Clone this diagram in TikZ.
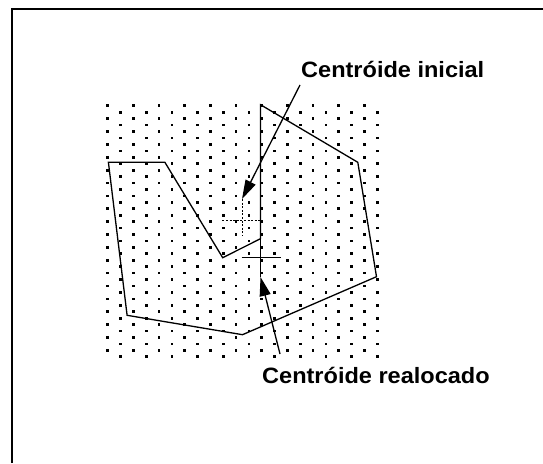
\documentclass[tikz,border=0pt]{standalone}
\usepackage{fontspec}
\setmainfont{Liberation Sans}
\usetikzlibrary{arrows.meta}
\begin{document}
\begin{tikzpicture}[x=1pt,y=-1pt,
  edge/.style={line width=1.3pt, line join=miter},
  arr/.style={line width=1.3pt, -{Triangle[length=19pt,width=11pt]}},
  lbl/.style={inner sep=0pt, anchor=base west, font=\fontsize{22.2}{25}\selectfont\bfseries},
  dashcross/.style={line width=1pt, dash pattern=on 2pt off 1.6pt}]
\useasboundingbox (0,0) rectangle (543,463);
% frame
\draw[line width=2pt] (12,463) -- (12,8.5) -- (543,8.5);
% dot pattern
\foreach \r in {0,...,39}{
  \pgfmathtruncatemacro\rp{mod(\r,2)}
  \foreach \c in {0,...,10}{
    \pgfmathsetmacro\xx{107.8+(2*\c+\rp)*12.83}
    \pgfmathsetmacro\yy{105.8+\r*6.436}
    \fill (\xx-1.35,\yy-1.35) rectangle ++(2.7,2.7);
  }
}
% polygon
\coordinate (p1) at (108.4,162.3);
\coordinate (p2) at (164.9,162.3);
\coordinate (p3) at (222.7,257.7);
\coordinate (p4) at (260.5,238.7);
\coordinate (p5) at (260.5,104.7);
\coordinate (p6) at (357.8,162.3);
\coordinate (p7) at (376.5,276.7);
\coordinate (p8) at (242.5,334.7);
\coordinate (p9) at (127.1,315.3);
\draw[edge] (p1) -- (p2) -- (p3) -- (p4) -- (p5) -- (p6) -- (p7) -- (p8) -- (p9) -- cycle;
% initial centroid (dashed cross)
\coordinate (t1) at (242,199);
\coordinate (d1) at (222.3,220);
\coordinate (d2) at (261,220);
\coordinate (d3) at (242,236);
\draw[dashcross] (d1) -- (d2);
\draw[dashcross] (t1) -- (d3);
% relocated centroid (solid cross)
\coordinate (t2) at (260.5,277);
\coordinate (c1) at (241.7,257.7);
\coordinate (c2) at (281,257.7);
\draw[edge] (c1) -- (c2);
\draw[edge] (p4) -- (t2);
% labels
\node[lbl] (lab1) at (301,77) {\scalebox{1.06}[1]{Centróide inicial}};
\node[lbl] (lab2) at (262,383) {\scalebox{1.06}[1]{Centróide realocado}};
\coordinate (s1) at (300,85);
\coordinate (s2) at (280,354);
\draw[arr] (s1) -- (t1);
\draw[arr] (s2) -- (t2);
\end{tikzpicture}
\end{document}
